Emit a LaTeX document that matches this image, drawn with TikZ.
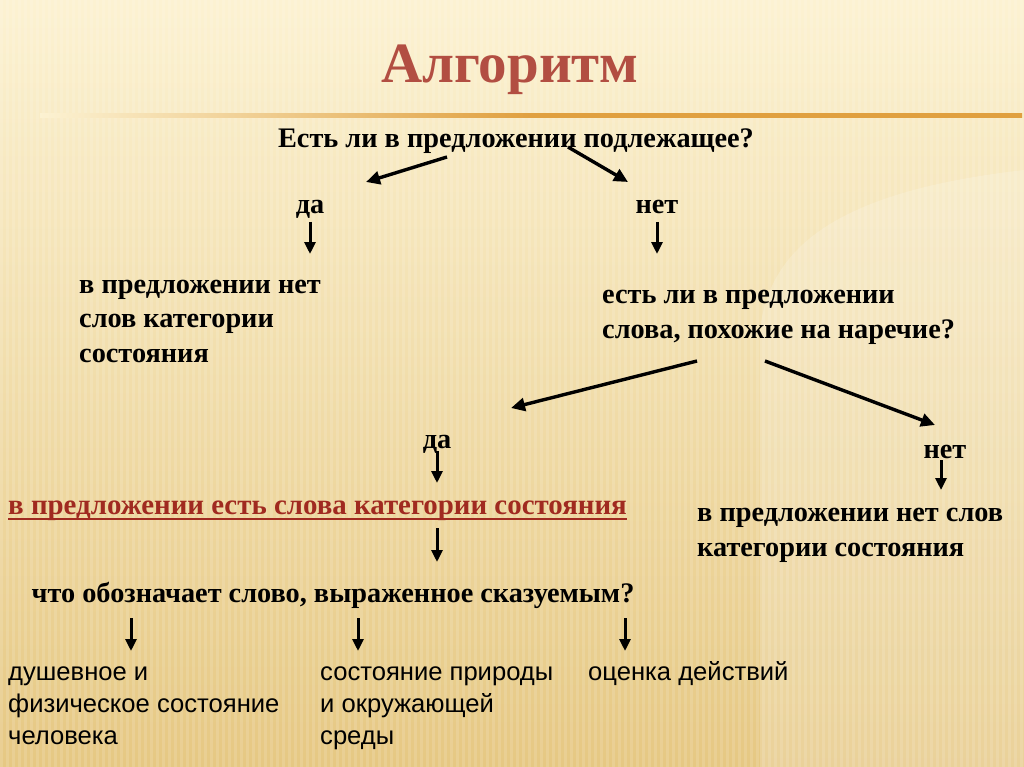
\documentclass[tikz,border=0pt]{standalone}
\usepackage{fontspec}
\setmainfont{Liberation Serif}
\newfontfamily\arialf{Liberation Sans}
\usetikzlibrary{arrows.meta}
\definecolor{bgtop}{HTML}{FCF2D2}
\definecolor{bgbot}{HTML}{E6C883}
\definecolor{linegold}{HTML}{E0A040}
\definecolor{titlered}{HTML}{B24E42}
\definecolor{darkred}{HTML}{A02A20}
\begin{document}
\begin{tikzpicture}[x=1pt,y=-1pt,
  tb/.style={font=\bfseries\fontsize{28.3}{34.5}\selectfont, inner sep=0pt, align=left},
  ar/.style={font=\arialf\fontsize{25.6}{32}\selectfont, inner sep=0pt, align=left},
  arr/.style={line width=3.4pt, -{Triangle[length=14pt,width=13pt]}},
  sarr/.style={line width=3pt, -{Triangle[length=12pt,width=11pt]}}]
\useasboundingbox (0,0) rectangle (1024,767);
% background
\shade[top color=bgtop, bottom color=bgbot] (0,0) rectangle (1024,767);
\fill[white, opacity=0.18] (1024,170) .. controls (850,190) and (770,240) .. (760,330) -- (760,767) -- (1024,767) -- cycle;
\foreach \i in {0,6,...,1020} \fill[white, opacity=0.13] (\i,0) rectangle ++(2.5,767);
% rule
\shade[left color=bgtop, right color=linegold, middle color=linegold] (40,114) rectangle (1022,117.5);
% title
\node (title) [font=\bfseries\fontsize{57}{57}\selectfont, text=titlered, anchor=base] at (510,83) {Алгоритм};
% question 1
\node (q1) [tb, anchor=base] at (516,148) {Есть ли в предложении подлежащее?};
\coordinate (q1l) at (447,157); \coordinate (q1le) at (366,182);
\coordinate (q1r) at (568,147); \coordinate (q1re) at (628,182);
\draw[arr] (q1l) -- (q1le);
\draw[arr] (q1r) -- (q1re);
\node (da1) [tb, anchor=base] at (310,214) {да};
\node (net1) [tb, anchor=base] at (657,214) {нет};
\coordinate (d1a) at (310,222); \coordinate (d1b) at (310,254);
\coordinate (n1a) at (657,222); \coordinate (n1b) at (657,254);
\draw[sarr] (d1a) -- (d1b);
\draw[sarr] (n1a) -- (n1b);
\node (noL) [tb, anchor=base west] at (79,362) {в предложении нет\\слов категории\\состояния};
\node (q2) [tb, anchor=base west] at (602,338) {есть ли в предложении\\слова, похожие на наречие?};
\coordinate (q2l) at (697,361); \coordinate (q2le) at (511,408);
\coordinate (q2r) at (765,361); \coordinate (q2re) at (935,425);
\draw[arr] (q2l) -- (q2le);
\draw[arr] (q2r) -- (q2re);
\node (da2) [tb, anchor=base] at (437,448) {да};
\node (net2) [tb, anchor=base] at (945,458) {нет};
\coordinate (d2a) at (437,451); \coordinate (d2b) at (437,483);
\coordinate (n2a) at (941,460); \coordinate (n2b) at (941,490);
\draw[sarr] (d2a) -- (d2b);
\draw[sarr] (n2a) -- (n2b);
\node (yes) [tb, text=darkred, anchor=base west] at (8,514) {\fontsize{28.9}{34.5}\selectfont в предложении есть слова категории состояния};
\draw[darkred, line width=1.6pt] (yes.base west) ++(0,5) -- ([yshift=-5pt]yes.base east);
\node (noR) [tb, anchor=base west] at (697,556) {в предложении нет слов\\категории состояния};
\coordinate (d3a) at (437,528); \coordinate (d3b) at (437,562);
\draw[sarr] (d3a) -- (d3b);
\node (q3) [tb, anchor=base] at (333,602) {что обозначает слово, выраженное сказуемым?};
\coordinate (a1) at (131,618); \coordinate (a1e) at (131,651);
\coordinate (a2) at (358,618); \coordinate (a2e) at (358,651);
\coordinate (a3) at (625,618); \coordinate (a3e) at (625,651);
\draw[sarr] (a1) -- (a1e);
\draw[sarr] (a2) -- (a2e);
\draw[sarr] (a3) -- (a3e);
\node (b1) [ar, anchor=base west] at (8,744) {душевное и\\физическое состояние\\человека};
\node (b2) [ar, anchor=base west] at (320,744) {состояние природы\\и окружающей\\среды};
\node (b3) [ar, anchor=base west] at (588,680) {оценка действий};
\end{tikzpicture}
\end{document}
